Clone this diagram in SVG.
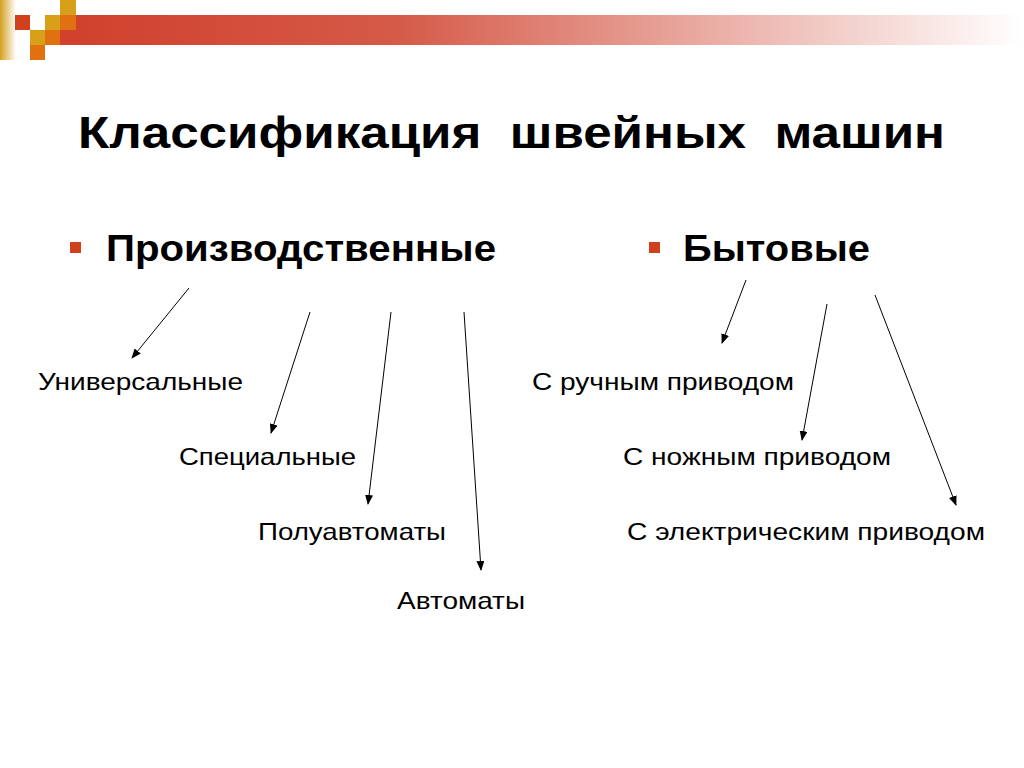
<svg xmlns="http://www.w3.org/2000/svg" width="1024" height="768" viewBox="0 0 1024 768">
<defs>
<linearGradient id="bar" x1="0" y1="0" x2="1" y2="0"><stop offset="0" stop-color="#d0402c"/><stop offset="0.35" stop-color="#d55a48"/><stop offset="1" stop-color="#ffffff"/></linearGradient>
<linearGradient id="g1" x1="0" y1="0" x2="1" y2="0"><stop offset="0" stop-color="#d4a020"/><stop offset="1" stop-color="#ffffff"/></linearGradient>
<marker id="ah" markerWidth="10" markerHeight="8" refX="9" refY="4" orient="auto" markerUnits="userSpaceOnUse"><path d="M0,0 L10,4 L0,8 z" fill="#000"/></marker>
<style>
.t{font-family:"Liberation Sans",Arial,sans-serif;fill:#000}
.h{font-size:24px}
.c{stroke:#000;stroke-width:1;fill:none;marker-end:url(#ah)}
</style>
</defs>
<rect width="1024" height="768" fill="#fff"/>
<g id="deco">
<rect x="60" y="15" width="964" height="30" fill="url(#bar)"/>
<rect x="0" y="0" width="16" height="60" fill="url(#g1)"/>
<rect x="15" y="15" width="15" height="15" fill="#d0401c"/>
<rect x="45" y="15" width="15" height="15" fill="#d8a018"/>
<rect x="60" y="0" width="16" height="15" fill="#d8a018"/>
<rect x="60" y="15" width="16" height="15" fill="#e07010"/>
<rect x="45" y="30" width="15" height="15" fill="#e07010"/>
<rect x="30" y="30" width="15" height="15" fill="#d8a018"/>
<rect x="30" y="45" width="15" height="15" fill="#e07010"/>
</g>
<text class="t" x="78" y="148" font-size="44" font-weight="bold" textLength="867" lengthAdjust="spacingAndGlyphs" xml:space="preserve">Классификация  швейных  машин</text>
<g id="prod"><rect x="70" y="242" width="11" height="11" fill="#d0401c"/><text class="t" x="106" y="261" font-size="36" font-weight="bold" textLength="390" lengthAdjust="spacingAndGlyphs">Производственные</text></g>
<g id="byt"><rect x="649" y="242" width="11" height="11" fill="#d0401c"/><text class="t" x="683" y="261" font-size="36" font-weight="bold" textLength="187" lengthAdjust="spacingAndGlyphs">Бытовые</text></g>
<g id="n1"><text class="t h" x="38" y="390" textLength="205" lengthAdjust="spacingAndGlyphs">Универсальные</text></g>
<g id="n2"><text class="t h" x="179" y="465" textLength="177" lengthAdjust="spacingAndGlyphs">Специальные</text></g>
<g id="n3"><text class="t h" x="258" y="540" textLength="188" lengthAdjust="spacingAndGlyphs">Полуавтоматы</text></g>
<g id="n4"><text class="t h" x="397" y="609" textLength="128" lengthAdjust="spacingAndGlyphs">Автоматы</text></g>
<g id="n5"><text class="t h" x="532" y="390" textLength="262" lengthAdjust="spacingAndGlyphs">С ручным приводом</text></g>
<g id="n6"><text class="t h" x="623" y="465" textLength="268" lengthAdjust="spacingAndGlyphs">С ножным приводом</text></g>
<g id="n7"><text class="t h" x="627" y="540" textLength="358" lengthAdjust="spacingAndGlyphs">С электрическим приводом</text></g>
<g id="connectors">
<line class="c" x1="189" y1="288" x2="132" y2="358"/>
<line class="c" x1="310" y1="312" x2="271" y2="433"/>
<line class="c" x1="391" y1="312" x2="368" y2="504"/>
<line class="c" x1="464" y1="312" x2="481" y2="570"/>
<line class="c" x1="746" y1="280" x2="722" y2="343"/>
<line class="c" x1="827" y1="304" x2="802" y2="440"/>
<line class="c" x1="875" y1="295" x2="956" y2="505"/>
</g>
</svg>
